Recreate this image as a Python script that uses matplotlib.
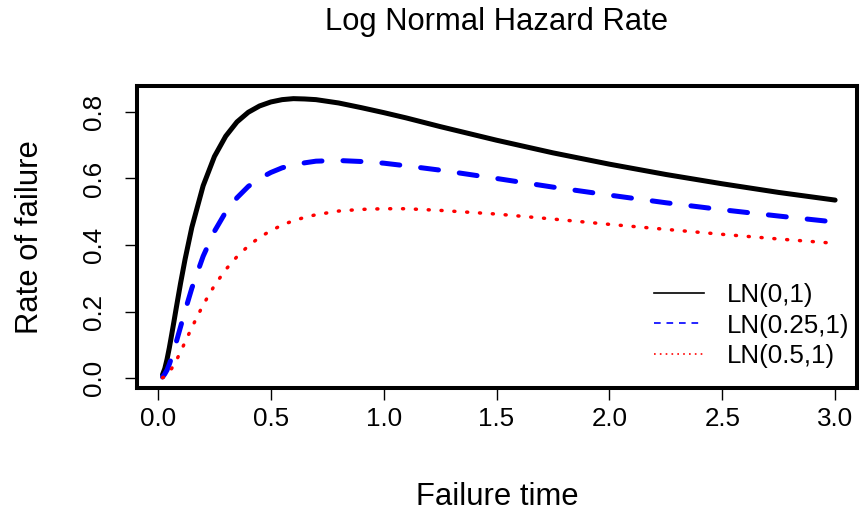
import numpy as np
import matplotlib
matplotlib.use("Agg")
import matplotlib.pyplot as plt

# values
t = [0.02, 0.03, 0.04, 0.05, 0.06, 0.07, 0.08, 0.1, 0.12, 0.15, 0.2, 0.25, 0.3,
     0.35, 0.4, 0.45, 0.5, 0.55, 0.6, 0.65, 0.7, 0.8, 0.9, 1.0, 1.1, 1.25, 1.5,
     1.75, 2.0, 2.25, 2.5, 2.75, 3.0]
ln_0 = [0.010, 0.028, 0.056, 0.090, 0.128, 0.167, 0.207, 0.285, 0.357, 0.453,
        0.578, 0.666, 0.727, 0.770, 0.799, 0.818, 0.830, 0.837, 0.840, 0.839,
        0.837, 0.827, 0.813, 0.798, 0.782, 0.756, 0.715, 0.677, 0.643, 0.612,
        0.584, 0.558, 0.535]
ln_025 = [0.003, 0.012, 0.024, 0.041, 0.061, 0.083, 0.106, 0.154, 0.202, 0.270,
          0.366, 0.441, 0.499, 0.542, 0.576, 0.600, 0.618, 0.632, 0.641, 0.647,
          0.652, 0.654, 0.651, 0.646, 0.638, 0.625, 0.600, 0.574, 0.550, 0.527,
          0.506, 0.487, 0.469]
ln_05 = [0.001, 0.004, 0.010, 0.018, 0.028, 0.039, 0.051, 0.079, 0.108, 0.152,
         0.220, 0.278, 0.326, 0.365, 0.397, 0.423, 0.443, 0.460, 0.473, 0.483,
         0.491, 0.502, 0.507, 0.509, 0.509, 0.504, 0.493, 0.478, 0.462, 0.447,
         0.432, 0.418, 0.405]
labels = ["LN(0,1)", "LN(0.25,1)", "LN(0.5,1)"]
xticks = [0.0, 0.5, 1.0, 1.5, 2.0, 2.5, 3.0]
yticks = [0.0, 0.2, 0.4, 0.6, 0.8]

plt.rcParams['font.family'] = ['Liberation Sans', 'DejaVu Sans']

W, H = 861, 516
fig = plt.figure(figsize=(W / 100, H / 100), dpi=100)
ax = fig.add_axes([137 / W, 1 - 388 / H, (857 - 137) / W, (388 - 86) / H])

ax.plot(t, ln_0, color="black", lw=3.6, solid_capstyle="round", solid_joinstyle="round")
ax.plot(t, ln_025, color="blue", lw=3.6, dashes=(3.6, 4.2), dash_capstyle="round",
        dash_joinstyle="round")
ax.plot(t, ln_05, color="red", lw=2.5, dashes=(0.3, 3.4), dash_capstyle="round")

ax.set_xlim(-0.093, 3.097)
ax.set_ylim(-0.030, 0.878)
ax.set_xticks(xticks)
ax.set_xticklabels(["%.1f" % v for v in xticks])
ax.set_yticks(yticks)
ax.set_yticklabels(["%.1f" % v for v in yticks], rotation=90, va="center")
ax.tick_params(direction="out", length=8.6, width=1.0, labelsize=18.7)
ax.tick_params(axis="x", pad=5)
ax.tick_params(axis="y", pad=14)
for s in ax.spines.values():
    s.set_linewidth(2.9)

# legend handles drawn thin, as in the reference
h1, = ax.plot([], [], color="black", lw=1.2)
h2, = ax.plot([], [], color="blue", lw=1.2, dashes=(4, 3.5))
h3, = ax.plot([], [], color="red", lw=1.2, dashes=(1, 2.5))
ax.legend([h1, h2, h3], labels, loc="lower right", bbox_to_anchor=(862 / W, 1 - 381 / H),
          bbox_transform=fig.transFigure, frameon=False, fontsize=18.7,
          handlelength=1.95, handletextpad=0.85, labelspacing=0.25, borderpad=0)

fig.text(497 / W, 1 - 22 / H, "Log Normal Hazard Rate", ha="center", va="center", fontsize=22.3)
fig.text(497 / W, 1 - 497 / H, "Failure time", ha="center", va="center", fontsize=22.3)
fig.text(30 / W, 1 - 237 / H, "Rate of failure", ha="center", va="center", rotation=90, fontsize=22.3)

fig.savefig("out.png", dpi=100)
